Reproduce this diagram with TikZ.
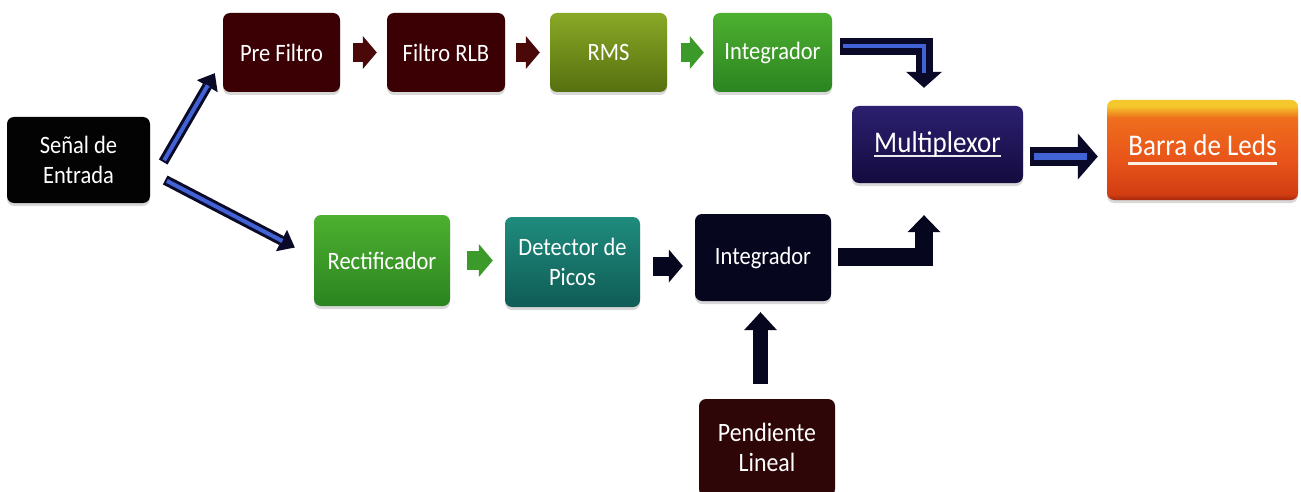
\documentclass[tikz,border=0pt]{standalone}
\usepackage{fontspec}
\setmainfont{Carlito}[FakeStretch=0.9]
\usetikzlibrary{arrows.meta,shadows}
\definecolor{blk}{HTML}{030303}
\definecolor{maroonA}{HTML}{3A0004}
\definecolor{maroonP}{HTML}{2E0608}
\definecolor{navyI}{HTML}{06061E}
\definecolor{navyO}{HTML}{0A0A28}
\definecolor{blueF}{HTML}{4263D6}
\definecolor{olT}{HTML}{89A826}
\definecolor{olB}{HTML}{56700F}
\definecolor{grT}{HTML}{4DB030}
\definecolor{grB}{HTML}{2B8420}
\definecolor{tlT}{HTML}{1F8C7E}
\definecolor{tlB}{HTML}{0F5C55}
\definecolor{mxT}{HTML}{2C2070}
\definecolor{mxB}{HTML}{130B3E}
\definecolor{orY}{HTML}{F4C82C}
\definecolor{orA}{HTML}{EF6E1C}
\definecolor{orM}{HTML}{E8541A}
\definecolor{orR}{HTML}{D23E12}
\definecolor{orB}{HTML}{A8280C}
\definecolor{arrG}{HTML}{3C9A2A}
\definecolor{arrM}{HTML}{4A0808}
\pgfdeclareverticalshading{barrashade}{100bp}{color(0bp)=(orB); color(25bp)=(orB); color(28bp)=(orR); color(45bp)=(orM); color(66bp)=(orA); color(72bp)=(orY); color(100bp)=(orY)}
\newcommand\myul[4]{\setbox0=\hbox{#1}\rlap{\color{#3}\rule[#2]{\wd0}{#4}}\box0}
\begin{document}
\begin{tikzpicture}[x=1pt,y=-1pt,
  box/.style={rounded corners=7pt, inner sep=0pt, text=white, align=center,
    font=\fontsize{25}{30}\selectfont,
    drop shadow={opacity=0.3, shadow xshift=0pt, shadow yshift=-3pt}},
  smallarr/.style={draw=#1, line width=19pt,
    -{Triangle[width=33pt,length=14pt,line width=0pt]}},
  bluediag/.style={draw=navyO, line width=10pt,
    -{Triangle[width=24pt,length=15pt,line width=0pt]},
    postaction={draw=blueF, line width=4pt, -, shorten >=14pt, shorten <=2pt}},
  blueelbow/.style={draw=navyO, line width=17pt, line join=miter,
    -{Triangle[width=36pt,length=16pt,line width=0pt]},
    postaction={draw=blueF, line width=4pt, -, shorten >=15pt, shorten <=3pt}},
  bluestraight/.style={draw=navyO, line width=19pt,
    -{Triangle[width=46pt,length=20pt,line width=0pt]},
    postaction={draw=blueF, line width=7pt, -, shorten >=20pt, shorten <=4pt}},
  darkarr/.style={draw=navyI, line width=#1, line join=miter},
]
\useasboundingbox (0,0) rectangle (1301,492);
\fill[white] (0,0) rectangle (1301,492);

% boxes
\node[box, fill=blk, minimum width=143pt, minimum height=86pt] (sen) at (78.5,160) {Señal de\\Entrada};
\node[box, fill=maroonA, minimum width=117pt, minimum height=79pt] (pre) at (281.5,52.5) {Pre Filtro};
\node[box, fill=maroonA, minimum width=118pt, minimum height=79pt] (rlb) at (446,52.5) {Filtro RLB};
\node[box, top color=olT, bottom color=olB, minimum width=117pt, minimum height=79pt] (rms) at (608.5,52.5) {RMS};
\node[box, top color=grT, bottom color=grB, minimum width=119pt, minimum height=79pt] (inttop) at (772.5,52.5) {Integrador};
\node[box, top color=mxT, bottom color=mxB, minimum width=171pt, minimum height=77pt,
  font=\fontsize{30}{36}\selectfont] (mux) at (937.5,144.5) {\myul{Multiplexor}{-5pt}{white!85!gray}{2pt}};
\node[box, shading=barrashade, minimum width=191pt, minimum height=100pt,
  font=\fontsize{30}{36}\selectfont] (barra) at (1202.5,150) {\myul{Barra de Leds}{-10pt}{white!90!orange}{3pt}};
\node[box, top color=grT, bottom color=grB, minimum width=136pt, minimum height=91pt] (rect) at (382,260.5) {Rectificador};
\node[box, top color=tlT, bottom color=tlB, minimum width=135pt, minimum height=90pt] (det) at (572.5,262) {Detector de\\Picos};
\node[box, fill=navyI, minimum width=136pt, minimum height=87pt] (intbot) at (763,257.5) {Integrador};
\node[box, fill=maroonP, minimum width=136pt, minimum height=97pt,
  font=\fontsize{26.5}{30}\selectfont] (pend) at (767,447.5) {Pendiente\\Lineal};

% small block arrows
\draw[smallarr=arrM, shorten <=13pt, shorten >=10pt] (pre) -- (rlb);
\draw[smallarr=arrM, shorten <=11pt, shorten >=10pt] (rlb) -- (rms);
\draw[smallarr=arrG, shorten <=14pt, shorten >=9pt] (rms) -- (inttop);
\draw[smallarr=arrG, shorten <=17pt, shorten >=12pt] (rect.east) -- (rect.east -| det.west);
\draw[smallarr=navyI, shorten <=13pt, shorten >=12pt] ([yshift=-4pt]det.east) -- ([yshift=-4pt]det.east -| intbot.west);

% blue diagonal arrows from the input
\coordinate (u0) at ([xshift=13pt,yshift=-2pt]sen.east);
\coordinate (u1) at ([xshift=-8pt,yshift=19pt]pre.south west);
\draw[bluediag] (u0) -- (u1);
\coordinate (d0) at ([xshift=15pt,yshift=-20pt]sen.east);
\coordinate (d1) at ([xshift=-19pt,yshift=13pt]rect.west);
\draw[bluediag] (d0) -- (d1);

% elbow from top integrator to multiplexor
\coordinate (e0) at ([xshift=8pt,yshift=6pt]inttop.east);
\coordinate (e1) at ([xshift=-13.5pt,yshift=18pt]mux.north);
\draw[blueelbow] (e0) -| (e1);

% elbow from bottom integrator to multiplexor
\coordinate (f0) at ([xshift=7pt,yshift=1pt]intbot.east);
\coordinate (f1) at ([xshift=-13.5pt,yshift=-32pt]mux.south);
\draw[darkarr=18pt, -{Triangle[width=33pt,length=17pt,line width=0pt]}] (f0) -| (f1);

% multiplexor to LED bar
\coordinate (m0) at ([xshift=7pt,yshift=-12pt]mux.east);
\draw[bluestraight, shorten >=9pt] (m0) -- (m0 -| barra.west);

% slope to bottom integrator
\coordinate (p0) at ([xshift=-6.5pt,yshift=15pt]pend.north);
\draw[darkarr=15pt, -{Triangle[width=33pt,length=18pt,line width=0pt]}, shorten >=11pt] (p0) -- (p0 |- intbot.south);
\end{tikzpicture}
\end{document}
